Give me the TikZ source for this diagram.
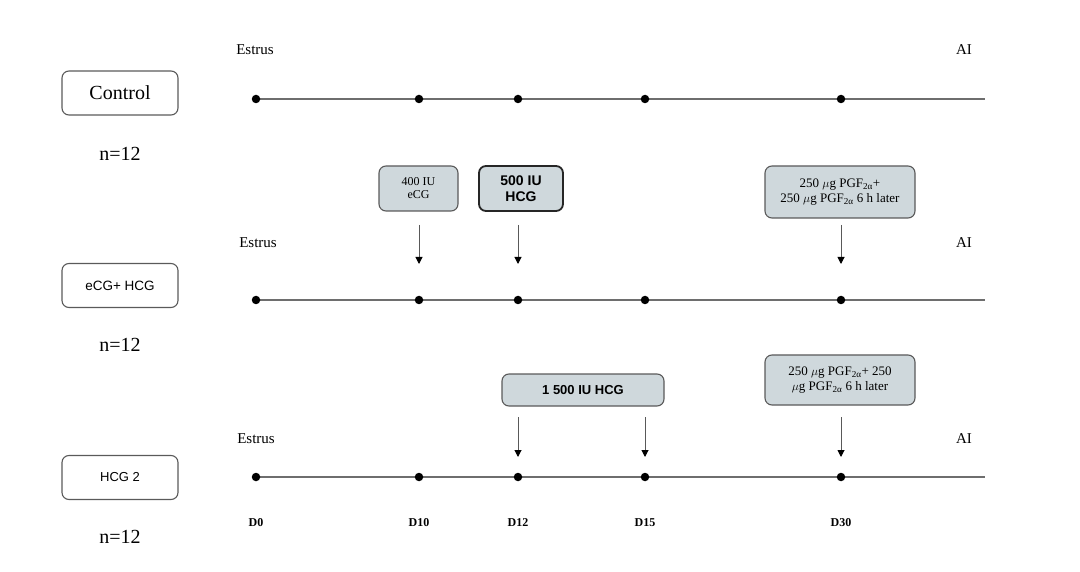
\documentclass[tikz,border=0pt]{standalone}
\usepackage{fontspec}
\setmainfont{Liberation Serif}
\setsansfont{Liberation Sans}
\usetikzlibrary{arrows.meta}
\definecolor{boxfill}{HTML}{CFD8DC}
\definecolor{linegray}{HTML}{6E6E6E}
\definecolor{boxedge}{HTML}{5A5A5A}
\tikzset{
  tl/.style={draw=linegray, line width=1.5pt},
  tdot/.style={circle, fill=black, inner sep=0pt, minimum size=8.5pt},
  grp/.style={draw=boxedge, line width=1.1pt, rounded corners=7pt, minimum width=116pt, minimum height=44pt, inner sep=0pt},
  trt/.style={draw=boxedge, fill=boxfill, line width=1.1pt, rounded corners=7pt, inner sep=0pt, align=center},
  trtb/.style={trt, draw=black!85, line width=1.8pt},
  arr/.style={draw=black!65, line width=1pt, -{Triangle[length=7pt,width=7pt,fill=black,color=black]}},
  lab/.style={font=\fontsize{15}{17}\selectfont, inner sep=0pt},
  nn/.style={font=\fontsize{20}{22}\selectfont, inner sep=0pt},
  day/.style={font=\fontsize{12}{14}\selectfont\bfseries, inner sep=0pt},
}
\begin{document}
\begin{tikzpicture}[x=1pt, y=-1pt]
\useasboundingbox (0,0) rectangle (1080,572);

% group boxes
\node[grp, font=\fontsize{20}{22}\selectfont] (g1) at (120,93) {Control};
\node[grp, font=\sffamily\fontsize{13.5}{15}\selectfont] (g2) at (120,285.5) {eCG+ HCG};
\node[grp, font=\sffamily\fontsize{13}{15}\selectfont] (g3) at (120,477.5) {HCG 2};
\node[nn] (n1) at (120,154) {n=12};
\node[nn] (n2) at (120,345) {n=12};
\node[nn] (n3) at (120,537) {n=12};

% timelines
\foreach \r/\y in {1/99, 2/300, 3/477} {
  \coordinate (e\r) at (985,\y);
  \coordinate (o\r) at (256,\y);
  \draw[tl] (o\r) -- (e\r);
  \node[tdot] (a\r) at (256,\y) {};
  \node[tdot] (b\r) at (419,\y) {};
  \node[tdot] (c\r) at (518,\y) {};
  \node[tdot] (d\r) at (645,\y) {};
  \node[tdot] (f\r) at (841,\y) {};
}
\node[lab] (es1) at (255,50) {Estrus};
\node[lab] (es2) at (258,243) {Estrus};
\node[lab] (es3) at (256,439) {Estrus};
\node[lab] (ai1) at (964,50) {AI};
\node[lab] (ai2) at (964,243) {AI};
\node[lab] (ai3) at (964,439) {AI};

% day labels
\node[day] (D0) at (256,523) {D0};
\node[day] (D10) at (419,523) {D10};
\node[day] (D12) at (518,523) {D12};
\node[day] (D15) at (645,523) {D15};
\node[day] (D30) at (841,523) {D30};

% row 2 treatments
\node[trt, minimum width=79pt, minimum height=45pt, font=\fontsize{12}{13}\selectfont] (t21) at (418.5,188.5) {400 IU\\eCG};
\node[trtb, minimum width=84pt, minimum height=45pt, font=\sffamily\bfseries\fontsize{14}{16}\selectfont] (t22) at (521,188.5) {500 IU\\HCG};
\node[trt, minimum width=150pt, minimum height=52pt, font=\fontsize{13}{15}\selectfont] (t23) at (840,192) {250 $\mu$g PGF\textsubscript{2α}+\\250 $\mu$g PGF\textsubscript{2α} 6 h later};

\coordinate (s21) at (419,225); \coordinate (s22) at (518,225); \coordinate (s23) at (841,225);
\coordinate (h21) at (419,264); \coordinate (h22) at (518,264); \coordinate (h23) at (841,264);
\draw[arr] (s21) -- (h21);
\draw[arr] (s22) -- (h22);
\draw[arr] (s23) -- (h23);

% row 3 treatments
\node[trt, minimum width=162pt, minimum height=32pt, font=\sffamily\bfseries\fontsize{13}{15}\selectfont] (t31) at (583,390) {1 500 IU HCG};
\node[trt, minimum width=150pt, minimum height=50pt, font=\fontsize{13}{15}\selectfont] (t32) at (840,380) {250 $\mu$g PGF\textsubscript{2α}+ 250\\$\mu$g PGF\textsubscript{2α} 6 h later};

\coordinate (s31) at (518,417); \coordinate (s32) at (645,417); \coordinate (s33) at (841,417);
\coordinate (h31) at (518,457); \coordinate (h32) at (645,457); \coordinate (h33) at (841,457);
\draw[arr] (s31) -- (h31);
\draw[arr] (s32) -- (h32);
\draw[arr] (s33) -- (h33);
\end{tikzpicture}
\end{document}
